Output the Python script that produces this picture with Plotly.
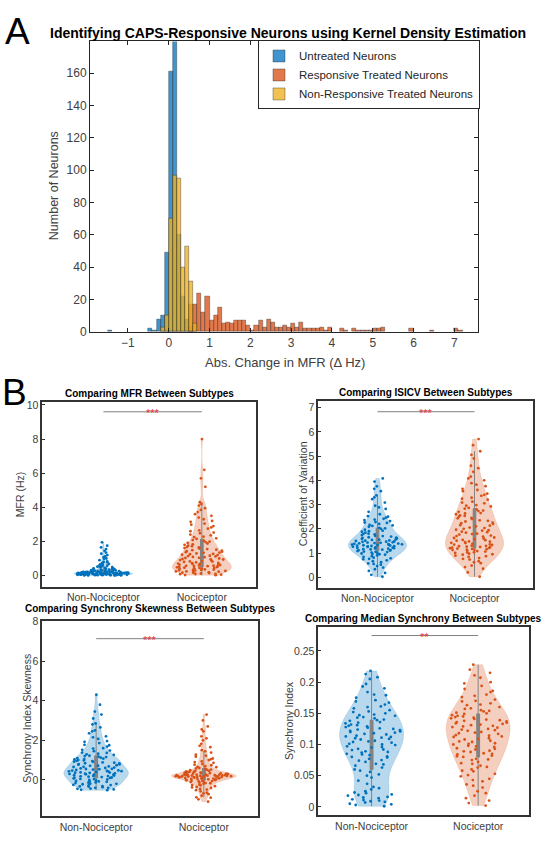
import plotly.graph_objects as go

W, H = 550, 851
FONT = "Liberation Sans, Arial, sans-serif"

# ---------------- Panel A: histogram data (bin centres, width 0.1) ----------------
untreated_bins = [-1.45, -0.45, -0.35, -0.25, -0.15, -0.05, 0.05, 0.15, 0.25, 0.35, 0.45, 0.55]
untreated_counts = [1, 2, 1, 8, 10, 49, 161, 205, 60, 22, 8, 3]

responsive_bins = [0.55, 0.65, 0.75, 0.85, 0.95, 1.05, 1.15, 1.25, 1.35, 1.45, 1.55, 1.65, 1.75,
                   1.85, 1.95, 2.05, 2.15, 2.25, 2.35, 2.45, 2.55, 2.65, 2.75, 2.85, 2.95, 3.05,
                   3.15, 3.25, 3.35, 3.45, 3.55, 3.65, 3.75, 3.85, 3.95, 4.25, 4.35, 4.55, 4.65,
                   4.75, 4.85, 4.95, 5.05, 5.15, 5.25, 5.95, 6.45, 7.05, 7.15]
responsive_counts = [17, 17, 24, 12, 22, 7, 10, 15, 5, 6, 5, 7, 7,
                     7, 4, 1, 4, 7, 3, 8, 6, 3, 3, 4, 3, 5,
                     3, 6, 2, 2, 2, 2, 3, 1, 3, 2, 1, 2, 1,
                     1, 1, 1, 2, 2, 3, 2, 1, 2, 1]

nonresp_bins = [-0.15, -0.05, 0.05, 0.15, 0.25, 0.35, 0.45, 0.55, 0.65]
nonresp_counts = [3, 10, 70, 97, 95, 40, 53, 31, 5]

hist_xticks = [-1, 0, 1, 2, 3, 4, 5, 6, 7]
hist_yticks = [0, 20, 40, 60, 80, 100, 120, 140, 160]

# ---------------- Panel B: violin data ----------------
categories = ["Non-Nociceptor", "Nociceptor"]

mfr_non = [0.00, 0.01, 0.01, 0.02, 0.02, 0.02, 0.03, 0.03, 0.03, 0.04, 0.04, 0.04, 0.05, 0.05, 0.05,
           0.05, 0.06, 0.06, 0.06, 0.07, 0.07, 0.07, 0.07, 0.08, 0.08, 0.08, 0.09, 0.09, 0.09, 0.10,
           0.10, 0.10, 0.10, 0.11, 0.11, 0.11, 0.12, 0.12, 0.12, 0.13, 0.13, 0.13, 0.14, 0.14, 0.15,
           0.15, 0.15, 0.16, 0.16, 0.17, 0.17, 0.18, 0.18, 0.19, 0.19, 0.20, 0.20, 0.21, 0.22, 0.22,
           0.23, 0.24, 0.25, 0.26, 0.27, 0.28, 0.29, 0.30, 0.31, 0.33, 0.34, 0.36, 0.38, 0.40, 0.42,
           0.44, 0.47, 0.50, 0.53, 0.56, 0.60, 0.64, 0.68, 0.72, 0.77, 0.83, 0.90, 0.98, 1.08, 1.20,
           1.35, 1.55, 1.75, 1.95,
           0.015, 0.025, 0.035, 0.045, 0.055, 0.065, 0.075, 0.085, 0.095, 0.105, 0.115, 0.125, 0.135,
           0.145, 0.155, 0.165, 0.175, 0.185, 0.195, 0.205, 0.215, 0.235, 0.255, 0.275, 0.32, 0.37,
           0.45, 0.52, 0.58, 0.66, 0.80, 1.00, 1.12, 1.28, 1.45, 1.65, 0.062, 0.078, 0.092, 0.108,
           0.118, 0.128, 0.138]
mfr_noc = [0.02, 0.05, 0.08, 0.10, 0.12, 0.15, 0.17, 0.19, 0.21, 0.23, 0.25, 0.27, 0.29, 0.31, 0.33,
           0.35, 0.36, 0.38, 0.40, 0.41, 0.43, 0.45, 0.46, 0.48, 0.50, 0.51, 0.53, 0.55, 0.56, 0.58,
           0.60, 0.62, 0.64, 0.66, 0.68, 0.70, 0.72, 0.74, 0.77, 0.80, 0.82, 0.85, 0.88, 0.91, 0.94,
           0.97, 1.00, 1.04, 1.08, 1.12, 1.16, 1.20, 1.25, 1.30, 1.35, 1.40, 1.46, 1.52, 1.58, 1.65,
           1.72, 1.80, 1.88, 1.96, 2.05, 2.15, 2.25, 2.36, 2.48, 2.60, 2.75, 2.90, 3.05, 3.20, 3.40,
           3.60, 3.85, 4.10, 4.30, 5.20, 5.70, 6.20, 8.00,
           0.03, 0.09, 0.16, 0.24, 0.32, 0.44, 0.57, 0.69, 0.83, 0.95, 1.03, 1.09, 1.14, 1.22, 1.27,
           1.33, 1.37, 1.43, 1.49, 1.55, 1.61, 1.68, 1.75, 1.83, 1.91, 1.99, 2.08, 2.18, 2.28, 2.40,
           2.52, 2.65, 2.82, 2.98, 3.15, 3.30, 3.50, 3.72, 3.95, 4.20]

cv_non = [0.02, 0.10, 0.18, 0.26, 0.33, 0.40, 0.46, 0.52, 0.57, 0.62, 0.66, 0.70, 0.74, 0.78, 0.81,
          0.84, 0.87, 0.90, 0.93, 0.96, 0.98, 1.00, 1.02, 1.04, 1.06, 1.08, 1.10, 1.12, 1.14, 1.16,
          1.18, 1.20, 1.21, 1.23, 1.25, 1.27, 1.28, 1.30, 1.32, 1.33, 1.35, 1.37, 1.38, 1.40, 1.42,
          1.44, 1.46, 1.48, 1.50, 1.52, 1.54, 1.56, 1.58, 1.60, 1.62, 1.65, 1.68, 1.71, 1.74, 1.77,
          1.80, 1.84, 1.88, 1.92, 1.96, 2.00, 2.04, 2.08, 2.12, 2.16, 2.20, 2.24, 2.28, 2.32, 2.36,
          2.41, 2.46, 2.52, 2.60, 2.70, 2.82, 2.95, 3.08, 3.22, 3.38, 3.55, 3.75, 3.95, 4.08,
          0.55, 0.76, 0.95, 1.05, 1.11, 1.15, 1.19, 1.22, 1.26, 1.29, 1.31, 1.34, 1.36, 1.39, 1.41,
          1.43, 1.47, 1.51, 1.55, 1.63, 1.70, 1.79, 1.90, 2.02, 2.14, 2.26, 2.38, 2.50, 2.88, 3.30,
          3.65]
cv_noc = [0.02, 0.20, 0.35, 0.48, 0.58, 0.66, 0.73, 0.79, 0.84, 0.89, 0.93, 0.97, 1.00, 1.03, 1.06,
          1.09, 1.12, 1.14, 1.16, 1.18, 1.20, 1.22, 1.24, 1.26, 1.28, 1.30, 1.33, 1.36, 1.39, 1.42,
          1.45, 1.48, 1.51, 1.54, 1.57, 1.60, 1.64, 1.68, 1.72, 1.76, 1.80, 1.84, 1.88, 1.92, 1.96,
          2.00, 2.05, 2.10, 2.15, 2.20, 2.25, 2.30, 2.35, 2.40, 2.45, 2.50, 2.55, 2.60, 2.65, 2.70,
          2.75, 2.80, 2.86, 2.92, 2.98, 3.05, 3.12, 3.20, 3.28, 3.36, 3.45, 3.55, 3.65, 3.76, 3.88,
          4.00, 4.15, 4.35, 4.60, 4.90, 5.20, 5.45, 5.70,
          0.42, 0.62, 0.76, 0.87, 0.95, 1.02, 1.08, 1.13, 1.17, 1.21, 1.25, 1.29, 1.35, 1.41, 1.47,
          1.53, 1.62, 1.70, 1.78, 1.86, 1.94, 2.03, 2.13, 2.23, 2.33, 2.43, 2.53, 2.63, 2.73, 2.83,
          2.95, 3.08, 3.24, 3.40, 3.60, 3.82, 4.08, 4.50, 5.05]

skew_non = [-0.52, -0.48, -0.44, -0.40, -0.37, -0.34, -0.31, -0.28, -0.25, -0.22, -0.19, -0.16, -0.13,
            -0.10, -0.08, -0.05, -0.03, 0.00, 0.02, 0.05, 0.07, 0.10, 0.12, 0.14, 0.16, 0.18, 0.20,
            0.22, 0.24, 0.26, 0.28, 0.30, 0.32, 0.33, 0.35, 0.37, 0.38, 0.40, 0.42, 0.43, 0.45, 0.47,
            0.48, 0.50, 0.52, 0.54, 0.56, 0.58, 0.60, 0.62, 0.65, 0.68, 0.71, 0.74, 0.77, 0.80, 0.84,
            0.88, 0.92, 0.96, 1.00, 1.05, 1.10, 1.15, 1.20, 1.26, 1.32, 1.38, 1.45, 1.52, 1.60, 1.68,
            1.77, 1.86, 1.96, 2.07, 2.20, 2.35, 2.50, 2.65, 2.85, 3.10, 3.45, 3.80, 4.30,
            -0.50, -0.45, -0.40, -0.33, -0.26, -0.20, -0.14, -0.07, 0.04, 0.11, 0.19, 0.27, 0.36,
            0.44, 0.55, 0.66, 0.72, 0.78, 0.83, 0.87, 0.91, 0.95, 0.99, 1.03, 1.07, 1.12, 1.17, 1.22,
            1.29, 1.36, 1.48, 1.58, 1.75, 1.92, 2.15, 2.45, 2.80, 3.30]
skew_noc = [-1.10, -0.98, -0.88, -0.80, -0.72, -0.65, -0.58, -0.52, -0.46, -0.41, -0.36, -0.32, -0.28,
            -0.24, -0.20, -0.17, -0.14, -0.11, -0.08, -0.06, -0.04, -0.02, 0.00, 0.02, 0.04, 0.06,
            0.08, 0.09, 0.11, 0.12, 0.14, 0.15, 0.16, 0.17, 0.18, 0.19, 0.20, 0.21, 0.22, 0.23, 0.24,
            0.25, 0.26, 0.27, 0.29, 0.30, 0.32, 0.34, 0.36, 0.38, 0.40, 0.43, 0.46, 0.49, 0.52, 0.56,
            0.60, 0.64, 0.69, 0.74, 0.80, 0.86, 0.93, 1.00, 1.08, 1.17, 1.27, 1.38, 1.50, 1.65, 1.82,
            2.00, 2.20, 2.45, 2.70, 3.00, 3.30,
            -0.90, -0.68, -0.49, -0.38, -0.26, -0.16, -0.10, -0.05, -0.01, 0.03, 0.05, 0.07, 0.10,
            0.13, 0.145, 0.155, 0.165, 0.175, 0.185, 0.195, 0.205, 0.215, 0.225, 0.235, 0.245, 0.255,
            0.265, 0.28, 0.31, 0.33, 0.35, 0.37, 0.41, 0.45, 0.50, 0.58, 0.66, 0.77, 0.90, 1.04,
            1.22, 1.44, 1.72, 2.10, 2.55]

sync_non = [0.001, 0.003, 0.005, 0.007, 0.009, 0.010, 0.012, 0.014, 0.016, 0.018, 0.020, 0.022, 0.025,
            0.028, 0.032, 0.037, 0.042, 0.047, 0.052, 0.056, 0.060, 0.063, 0.066, 0.069, 0.072, 0.074,
            0.077, 0.079, 0.081, 0.083, 0.085, 0.087, 0.089, 0.091, 0.093, 0.095, 0.097, 0.099, 0.101,
            0.103, 0.104, 0.106, 0.108, 0.109, 0.111, 0.112, 0.114, 0.116, 0.117, 0.119, 0.120, 0.122,
            0.123, 0.125, 0.127, 0.128, 0.130, 0.132, 0.134, 0.136, 0.138, 0.140, 0.142, 0.144, 0.146,
            0.148, 0.150, 0.152, 0.155, 0.158, 0.161, 0.164, 0.167, 0.171, 0.175, 0.179, 0.184, 0.190,
            0.197, 0.205, 0.213, 0.218,
            0.004, 0.008, 0.011, 0.015, 0.019, 0.023, 0.030, 0.050, 0.058, 0.068, 0.075, 0.080, 0.084,
            0.088, 0.092, 0.096, 0.100, 0.105, 0.110, 0.113, 0.118, 0.121, 0.124, 0.126, 0.129, 0.131,
            0.135, 0.139, 0.143, 0.147, 0.153, 0.160, 0.169, 0.180, 0.193, 0.208]
sync_noc = [0.002, 0.010, 0.018, 0.025, 0.031, 0.036, 0.041, 0.045, 0.049, 0.053, 0.057, 0.060, 0.063,
            0.066, 0.069, 0.072, 0.075, 0.077, 0.080, 0.082, 0.084, 0.086, 0.088, 0.090, 0.092, 0.094,
            0.096, 0.098, 0.100, 0.102, 0.104, 0.106, 0.108, 0.110, 0.112, 0.113, 0.115, 0.117, 0.118,
            0.120, 0.122, 0.123, 0.125, 0.127, 0.128, 0.130, 0.131, 0.133, 0.135, 0.136, 0.138, 0.140,
            0.141, 0.143, 0.145, 0.147, 0.149, 0.151, 0.153, 0.155, 0.157, 0.160, 0.163, 0.166, 0.169,
            0.172, 0.176, 0.180, 0.184, 0.189, 0.194, 0.200, 0.207, 0.215, 0.228,
            0.006, 0.014, 0.022, 0.034, 0.043, 0.051, 0.058, 0.064, 0.070, 0.076, 0.081, 0.085, 0.089,
            0.093, 0.097, 0.101, 0.105, 0.109, 0.114, 0.119, 0.124, 0.129, 0.132, 0.134, 0.137, 0.139,
            0.142, 0.144, 0.146, 0.150, 0.154, 0.158, 0.164, 0.170, 0.178, 0.186, 0.198, 0.211, 0.220]

panels = [
    dict(title="Comparing MFR Between Subtypes", ylabel="MFR (Hz)", data=(mfr_non, mfr_noc),
         yticks=[0, 2, 4, 6, 8, 10], yrange=[-0.67, 10.2], sig=9.6, stars="***", bw=(None, 0.3)),
    dict(title="Comparing ISICV Between Subtypes", ylabel="Coefficient of Variation", data=(cv_non, cv_noc),
         yticks=[0, 1, 2, 3, 4, 5, 6, 7], yrange=[-0.43, 7.29], sig=6.83, stars="***", bw=(None, None)),
    dict(title="Comparing Synchrony Skewness Between Subtypes", ylabel="Synchrony Index Skewness",
         data=(skew_non, skew_noc), yticks=[0, 2, 4, 6, 8], yrange=[-1.83, 8.0], sig=7.13, stars="***",
         bw=(0.22, 0.12)),
    dict(title="Comparing Median Synchrony Between Subtypes", ylabel="Synchrony Index",
         data=(sync_non, sync_noc), yticks=[0, 0.05, 0.1, 0.15, 0.2, 0.25],
         yrange=[-0.0133, 0.2883], sig=0.2747, stars="**", bw=(None, None)),
]

# pixel boxes of each axes (left, right, top, bottom)
boxes = [(42.3, 256.0, 401.7, 590.0), (318.3, 532.7, 400.7, 590.7),
         (42.3, 257.7, 625.0, 822.7), (318.3, 529.3, 630.7, 821.7)]
xranges = [[-0.62, 1.55], [-0.61, 1.6], [-0.5, 1.5], [-0.5, 1.48]]
title_y = [394, 393, 612, 622]
ylabel_x = [20, 303, 27, 289]


def dx(p):
    return p / W


def dy(p):
    return 1 - p / H


fig = go.Figure()

# ---- Histogram
hist_series = [
    ("Untreated Neurons", untreated_bins, untreated_counts, "rgba(0,114,189,0.75)"),
    ("Responsive Treated Neurons", responsive_bins, responsive_counts, "rgba(217,83,25,0.78)"),
    ("Non-Responsive Treated Neurons", nonresp_bins, nonresp_counts, "rgba(237,177,32,0.78)"),
]
for name, bx, cnt, col in hist_series:
    fig.add_trace(go.Bar(x=bx, y=cnt, width=0.1, name=name, xaxis="x", yaxis="y",
                         marker=dict(color=col, line=dict(color="rgba(30,30,30,0.6)", width=0.6))))

# ---- Violins
blue, orange = "#0072BD", "#D95319"
fills = ["rgba(0,114,189,0.28)", "rgba(217,83,25,0.28)"]
pcols = [blue, orange]
for i, p in enumerate(panels):
    ax = str(i + 2)
    for j, vals in enumerate(p["data"]):
        kw = {}
        if p["bw"][j] is not None:
            kw["bandwidth"] = p["bw"][j]
        fig.add_trace(go.Violin(
            x=[categories[j]] * len(vals), y=vals, xaxis="x" + ax, yaxis="y" + ax,
            width=0.6, scalemode="width", spanmode="hard", showlegend=False,
            fillcolor=fills[j], line=dict(color=fills[j], width=0.5),
            points="all", pointpos=0, jitter=0.9,
            marker=dict(color=pcols[j], size=2.8),
            box=dict(visible=True, width=0.045, fillcolor="rgba(128,128,128,0.95)",
                     line=dict(color="rgba(128,128,128,0.95)", width=1)),
            hoveron="points", **kw))

layout = dict(
    width=W, height=H, margin=dict(l=0, r=0, t=0, b=0),
    paper_bgcolor="white", plot_bgcolor="white",
    font=dict(family=FONT, color="#262626"),
    barmode="overlay", violinmode="overlay", bargap=0,
    showlegend=True,
    legend=dict(x=dx(258), y=dy(35), xanchor="left", yanchor="top", bgcolor="white",
                bordercolor="#262626", borderwidth=1, font=dict(size=11.5, color="#262626"),
                tracegroupgap=0, itemwidth=30),
)

layout["xaxis"] = dict(domain=[dx(90), dx(478)], range=[-1.93, 7.58], tickvals=hist_xticks,
                       ticks="inside", ticklen=4, mirror="ticks", showline=True, linecolor="#262626",
                       linewidth=1, tickcolor="#262626", showgrid=False, zeroline=False,
                       tickfont=dict(size=12, color="#404040"), anchor="y")
layout["yaxis"] = dict(domain=[dy(331), dy(36)], range=[0, 179.5], tickvals=hist_yticks,
                       ticks="inside", ticklen=4, mirror="ticks", showline=True, linecolor="#262626",
                       linewidth=1, tickcolor="#262626", showgrid=False, zeroline=False,
                       tickfont=dict(size=12, color="#404040"), anchor="x")

annotations = [
    dict(text="A", x=dx(3), y=dy(3), xanchor="left", yanchor="top", font=dict(size=37, color="black")),
    dict(text="B", x=dx(0), y=dy(370), xanchor="left", yanchor="top", font=dict(size=37, color="black")),
    dict(text="<b>Identifying CAPS-Responsive Neurons using Kernel Density Estimation</b>",
         x=dx(288), y=dy(27), font=dict(size=14, color="black")),
    dict(text="Number of Neurons", x=dx(54), y=dy(183), textangle=-90,
         font=dict(size=12.5, color="#404040")),
    dict(text="Abs. Change in MFR (Δ Hz)", x=dx(285), y=dy(362), font=dict(size=13, color="#404040")),
]
shapes = []

for i, p in enumerate(panels):
    ax = str(i + 2)
    l, r, t, b = boxes[i]
    layout["xaxis" + ax] = dict(domain=[dx(l), dx(r)], range=xranges[i], type="category",
                                categoryarray=categories, anchor="y" + ax,
                                showline=True, mirror=True, linecolor="#333333", linewidth=1.6,
                                ticks="", showgrid=False, zeroline=False,
                                tickfont=dict(size=10.5, color="#404040"))
    layout["yaxis" + ax] = dict(domain=[dy(b), dy(t)], range=p["yrange"], tickvals=p["yticks"],
                                anchor="x" + ax, showline=True, mirror=True, linecolor="#333333",
                                linewidth=1.6, ticks="inside", ticklen=3, tickcolor="#333333",
                                showgrid=False, zeroline=False,
                                tickfont=dict(size=10.5, color="#404040"))
    annotations.append(dict(text="<b>" + p["title"] + "</b>", x=dx((l + r) / 2), y=dy(title_y[i]),
                            font=dict(size=10, color="black")))
    annotations.append(dict(text=p["ylabel"], x=dx(ylabel_x[i]), y=dy((t + b) / 2), textangle=-90,
                            font=dict(size=10.5, color="#404040")))
    shapes.append(dict(type="line", xref="x" + ax, yref="y" + ax, x0=0, x1=1, y0=p["sig"], y1=p["sig"],
                       line=dict(color="#808080", width=1)))
    annotations.append(dict(text=p["stars"], xref="x" + ax, yref="y" + ax, x=0.5, y=p["sig"],
                            yanchor="middle", yshift=-1, font=dict(size=11, color="#e8303a")))

for a in annotations:
    a.setdefault("xref", "paper")
    a.setdefault("yref", "paper")
    a.setdefault("xanchor", "center")
    a.setdefault("yanchor", "middle")
    a.setdefault("showarrow", False)

layout["annotations"] = annotations
layout["shapes"] = shapes
fig.update_layout(**layout)

fig.write_html("out.html")
